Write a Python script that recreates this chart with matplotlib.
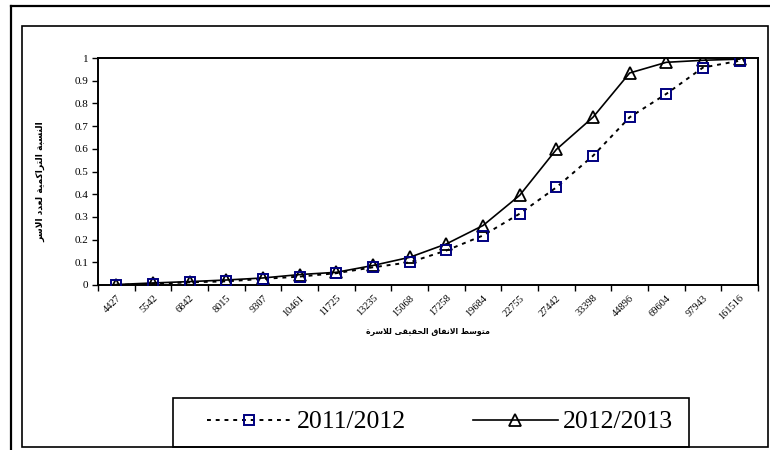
import numpy as np
import matplotlib
matplotlib.use("Agg")
import matplotlib.pyplot as plt
from matplotlib.lines import Line2D
from matplotlib.patches import Rectangle

categories = ["4427", "5542", "6842", "8015", "9307", "10461", "11725", "13235", "15068",
              "17258", "19684", "22755", "27442", "33398", "44896", "69604", "97943", "161516"]
share_2011 = [0.0, 0.005, 0.012, 0.016, 0.027, 0.037, 0.052, 0.078, 0.10,
              0.152, 0.218, 0.314, 0.43, 0.569, 0.739, 0.842, 0.958, 0.988]
share_2012 = [0.002, 0.009, 0.015, 0.022, 0.031, 0.046, 0.056, 0.086, 0.122,
              0.181, 0.262, 0.395, 0.597, 0.739, 0.934, 0.981, 0.99, 0.995]
y_ticks = [0, 0.1, 0.2, 0.3, 0.4, 0.5, 0.6, 0.7, 0.8, 0.9, 1]
y_tick_labels = ["0", "0.1", "0.2", "0.3", "0.4", "0.5", "0.6", "0.7", "0.8", "0.9", "1"]
x_title = "متوسط الانفاق الحقيقى للاسرة"
y_title = "النسبة التراكمية لعدد الاسر"

# arabic presentation forms: isolated, final, initial, medial
FORMS = {
    'ا': (0xFE8D, 0xFE8E, None, None), 'ب': (0xFE8F, 0xFE90, 0xFE91, 0xFE92),
    'ة': (0xFE93, 0xFE94, None, None), 'ت': (0xFE95, 0xFE96, 0xFE97, 0xFE98),
    'ح': (0xFEA1, 0xFEA2, 0xFEA3, 0xFEA4), 'د': (0xFEA9, 0xFEAA, None, None),
    'ر': (0xFEAD, 0xFEAE, None, None), 'س': (0xFEB1, 0xFEB2, 0xFEB3, 0xFEB4),
    'ط': (0xFEC1, 0xFEC2, 0xFEC3, 0xFEC4), 'ع': (0xFEC9, 0xFECA, 0xFECB, 0xFECC),
    'ف': (0xFED1, 0xFED2, 0xFED3, 0xFED4), 'ق': (0xFED5, 0xFED6, 0xFED7, 0xFED8),
    'ك': (0xFED9, 0xFEDA, 0xFEDB, 0xFEDC), 'ل': (0xFEDD, 0xFEDE, 0xFEDF, 0xFEE0),
    'م': (0xFEE1, 0xFEE2, 0xFEE3, 0xFEE4), 'ن': (0xFEE5, 0xFEE6, 0xFEE7, 0xFEE8),
    'و': (0xFEED, 0xFEEE, None, None), 'ى': (0xFEEF, 0xFEF0, None, None),
    'ي': (0xFEF1, 0xFEF2, 0xFEF3, 0xFEF4),
}


def shape(text):
    out = []
    i = 0
    prev_joins = False
    while i < len(text):
        c = text[i]
        if c not in FORMS:
            out.append(c)
            prev_joins = False
            i += 1
            continue
        if c == 'ل' and i + 1 < len(text) and text[i + 1] == 'ا':
            out.append(chr(0xFEFC if prev_joins else 0xFEFB))
            prev_joins = False
            i += 2
            continue
        iso, fin, ini, med = FORMS[c]
        nxt = text[i + 1] if i + 1 < len(text) else None
        next_joins = ini is not None and nxt in FORMS
        if prev_joins and next_joins:
            g = med
        elif prev_joins:
            g = fin
        elif next_joins:
            g = ini
        else:
            g = iso
        out.append(chr(g))
        prev_joins = ini is not None
        i += 1
    return ''.join(reversed(out))


serif = ["Liberation Serif", "DejaVu Serif"]
arabic = ["DejaVu Sans"]

fig = plt.figure(figsize=(7.7, 4.5), dpi=100)

# outer frame lines, inner chart border, legend box
fig.add_artist(Line2D([11 / 770, 1], [1 - 6 / 450, 1 - 6 / 450], color="black", lw=1.6,
                      transform=fig.transFigure))
fig.add_artist(Line2D([11 / 770, 11 / 770], [1 - 6 / 450, 0], color="black", lw=1.6,
                      transform=fig.transFigure))
fig.add_artist(Rectangle((22 / 770, 3 / 450), 746 / 770, 421 / 450, fill=False,
                         edgecolor="black", lw=1.2, transform=fig.transFigure))
fig.add_artist(Rectangle((173 / 770, 3 / 450), 516 / 770, 49 / 450, fill=False,
                         edgecolor="black", lw=1.2, transform=fig.transFigure))

ax = fig.add_axes([98 / 770, 1 - 285 / 450, 660 / 770, 227 / 450])
x = np.arange(len(categories)) + 0.5

ax.plot(x, share_2011, color="black", lw=1.4, linestyle=(0, (2, 2.5)),
        marker="s", markersize=7, markerfacecolor="none", markeredgecolor="#000080",
        markeredgewidth=1.4, label="2011/2012", zorder=3)
ax.plot(x, share_2012, color="black", lw=1.2, linestyle="-",
        marker="^", markersize=8.5, markerfacecolor="none", markeredgecolor="black",
        markeredgewidth=1.3, label="2012/2013", zorder=2)

ax.set_xlim(0, len(categories))
ax.set_ylim(0, 1)
ax.set_xticks(np.arange(len(categories) + 1))
ax.set_xticklabels([])
ax.set_xticks(x, minor=True)
ax.set_xticklabels(categories, minor=True, rotation=45, ha="right", va="top",
                   rotation_mode="anchor", family=serif, fontsize=7.5)
ax.tick_params(axis="x", which="minor", length=0, pad=6)
ax.tick_params(axis="x", which="major", length=4, width=1.0, direction="out")
ax.set_yticks(y_ticks)
ax.set_yticklabels(y_tick_labels, family=serif, fontsize=8)
ax.tick_params(axis="y", length=4, width=1.0, direction="out", pad=3)
for s in ax.spines.values():
    s.set_linewidth(1.4)

fig.text(428 / 770, 1 - 331 / 450, shape(x_title), ha="center", va="center",
         family=arabic, fontsize=5.6, fontweight="bold")
fig.text(41 / 770, 1 - 182 / 450, shape(y_title), ha="center", va="center",
         rotation=90, family=arabic, fontsize=6.6, fontweight="bold")

leg = fig.legend(loc="center", bbox_to_anchor=(440 / 770, 1 - 422 / 450), ncol=2,
                 frameon=False, prop={"family": serif, "size": 18.5}, handlelength=3.3,
                 handletextpad=0.2, columnspacing=2.6, borderaxespad=0)

fig.savefig("out.png", dpi=100)
